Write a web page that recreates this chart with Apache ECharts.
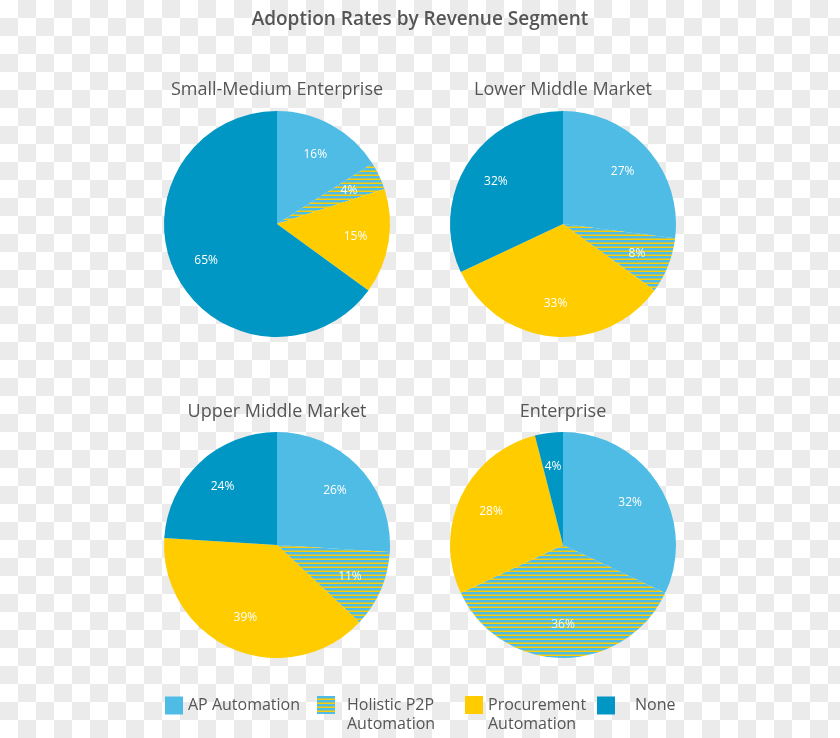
<!DOCTYPE html>
<html>
<head>
<meta charset="utf-8">
<script src="https://cdn.jsdelivr.net/npm/echarts@6/dist/echarts.min.js"></script>
<style>
  html, body { margin: 0; padding: 0; }
  body {
    width: 840px; height: 738px; overflow: hidden;
    background: repeating-conic-gradient(#ebebeb 0 25%, #ffffff 0 50%) 0 0 / 36px 36px;
  }
  #chart { width: 840px; height: 738px; }
</style>
</head>
<body>
<div id="chart"></div>
<script>
// ---- data ----
const chartTitle = 'Adoption Rates by Revenue Segment';
const categories = ['AP Automation', 'Holistic P2P Automation', 'Procurement Automation', 'None'];
const legendText = ['AP Automation', 'Holistic P2P\nAutomation', 'Procurement\nAutomation', 'None'];
const segments = ['Small-Medium Enterprise', 'Lower Middle Market', 'Upper Middle Market', 'Enterprise'];
const smallMediumValues = [16, 4, 15, 65];
const lowerMiddleValues = [27, 8, 33, 32];
const upperMiddleValues = [26, 11, 39, 24];
const enterpriseValues = [32, 36, 28, 4];
const segmentValues = [smallMediumValues, lowerMiddleValues, upperMiddleValues, enterpriseValues];

// ---- styles ----
const FONT = '"Open Sans", "Noto Sans", sans-serif';
const TEXT = '#555555';
const BLUE = '#4ebce4';
const YELLOW = '#ffcc00';
const DARK = '#0097c4';

function stripeCanvas() {
  const c = document.createElement('canvas');
  c.width = 8; c.height = 4;
  const g = c.getContext('2d');
  g.fillStyle = BLUE; g.fillRect(0, 0, 8, 4);
  g.fillStyle = YELLOW; g.fillRect(0, 2.5, 8, 1.5);
  return c;
}
const stripePattern = { image: stripeCanvas(), repeat: 'repeat' };
const sliceColors = [BLUE, stripePattern, YELLOW, DARK];

const centers = [[277, 224], [563, 224], [277, 545], [563, 545]];
const titleTops = [78, 78, 400, 400];
const R = 113;

const titles = [{
  text: chartTitle, left: 420, top: 8, textAlign: 'center', padding: 0,
  textStyle: { fontFamily: FONT, fontSize: 19, fontWeight: 600, color: TEXT, lineHeight: 24 }
}];
segments.forEach((s, i) => {
  titles.push({
    text: s, left: centers[i][0], top: titleTops[i], textAlign: 'center', padding: 0,
    textStyle: { fontFamily: FONT, fontSize: 18, fontWeight: 'normal', color: TEXT, lineHeight: 24 }
  });
});

const series = [];
segmentValues.forEach((vals, i) => {
  series.push({
    type: 'pie', name: segments[i], center: centers[i], radius: [0, R],
    startAngle: 90, clockwise: true, silent: true,
    label: { show: false }, labelLine: { show: false },
    emphasis: { disabled: true },
    itemStyle: { borderWidth: 0 },
    data: vals.map((v, k) => ({ name: categories[k], value: v, itemStyle: { color: sliceColors[k] } }))
  });
});
segmentValues.forEach((vals, i) => {
  series.push({
    type: 'pie', name: segments[i] + ' labels', center: centers[i], radius: [40, R],
    startAngle: 90, clockwise: true, silent: true, avoidLabelOverlap: false,
    itemStyle: { color: 'transparent', borderWidth: 0 },
    emphasis: { disabled: true },
    label: {
      show: true, position: 'inside', formatter: '{c}%',
      color: '#ffffff', fontFamily: FONT, fontSize: 12, fontWeight: 'normal'
    },
    labelLine: { show: false },
    data: vals.map((v, k) => ({ name: categories[k], value: v }))
  });
});

const legendLefts = [165, 317, 465, 597];
const legendPadLeft = [0, 7, 0, 15];
const legends = categories.map((c, k) => {
  const twoLine = legendText[k].indexOf('\n') >= 0;
  return {
    data: [c], left: legendLefts[k], top: twoLine ? 676.5 : 696, padding: 0,
    itemWidth: 18, itemHeight: 18, selectedMode: false,
    icon: 'rect',
    formatter: () => (twoLine ? ' \n' : '') + legendText[k],
    textStyle: {
      fontFamily: FONT, fontSize: 16, color: TEXT, lineHeight: 19,
      padding: [0, 0, 0, legendPadLeft[k]]
    }
  };
});

const chart = echarts.init(document.getElementById('chart'), null, { renderer: 'canvas' });
chart.setOption({
  backgroundColor: 'transparent',
  animation: false,
  title: titles,
  legend: legends,
  series: series
});
</script>
</body>
</html>
